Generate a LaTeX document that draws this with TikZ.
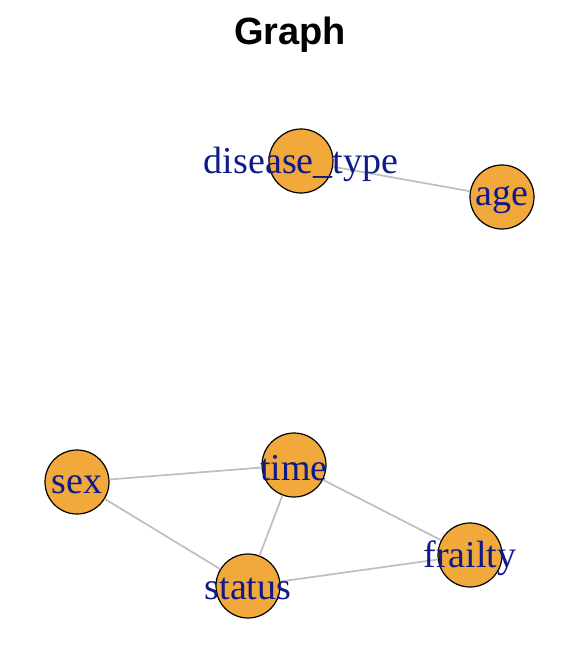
\documentclass[tikz,border=0pt]{standalone}
\usepackage{fontspec}
\setmainfont{Liberation Serif}
\newfontfamily\titlefont{Liberation Sans}
\usetikzlibrary{positioning}
\definecolor{vertexfill}{HTML}{F2A93B}
\definecolor{labelblue}{HTML}{0F1A8A}
\definecolor{edgegray}{HTML}{BEBEBE}

\tikzset{
  vertex/.style={circle,draw=black,line width=1.2pt,fill=vertexfill,minimum size=64pt,inner sep=0pt},
  vlabel/.style={text=labelblue,font=\fontsize{38}{38}\selectfont,inner sep=0pt,yshift=-3pt},
  link/.style={draw=edgegray,line width=1.7pt}
}

\begin{document}
\begin{tikzpicture}[x=1pt,y=-1pt]
      \useasboundingbox (0,0) rectangle (586,658);
      \node[font=\titlefont\bfseries\fontsize{38}{38}\selectfont] (title) at (290,35) {Graph};
      % vertices
      \node[vertex] (disease) at (301,161) {};
      \node[vertex] (age) at (502,197) {};
      \node[vertex] (sex) at (77,482) {};
      \node[vertex] (time) at (294,465) {};
      \node[vertex] (status) at (248,586) {};
      \node[vertex] (frailty) at (470,555) {};
      % edges
      \draw[link] (disease) -- (age);
      \draw[link] (sex) -- (time);
      \draw[link] (sex) -- (status);
      \draw[link] (time) -- (status);
      \draw[link] (time) -- (frailty);
      \draw[link] (status) -- (frailty);
      % labels
      \node[vlabel] at (disease) {disease\_type};
      \node[vlabel] at (age) {age};
      \node[vlabel] at (sex) {sex};
      \node[vlabel] at (time) {time};
      \node[vlabel] at (status) {status};
      \node[vlabel] at (frailty) {frailty};
    \end{tikzpicture}
\end{document}
